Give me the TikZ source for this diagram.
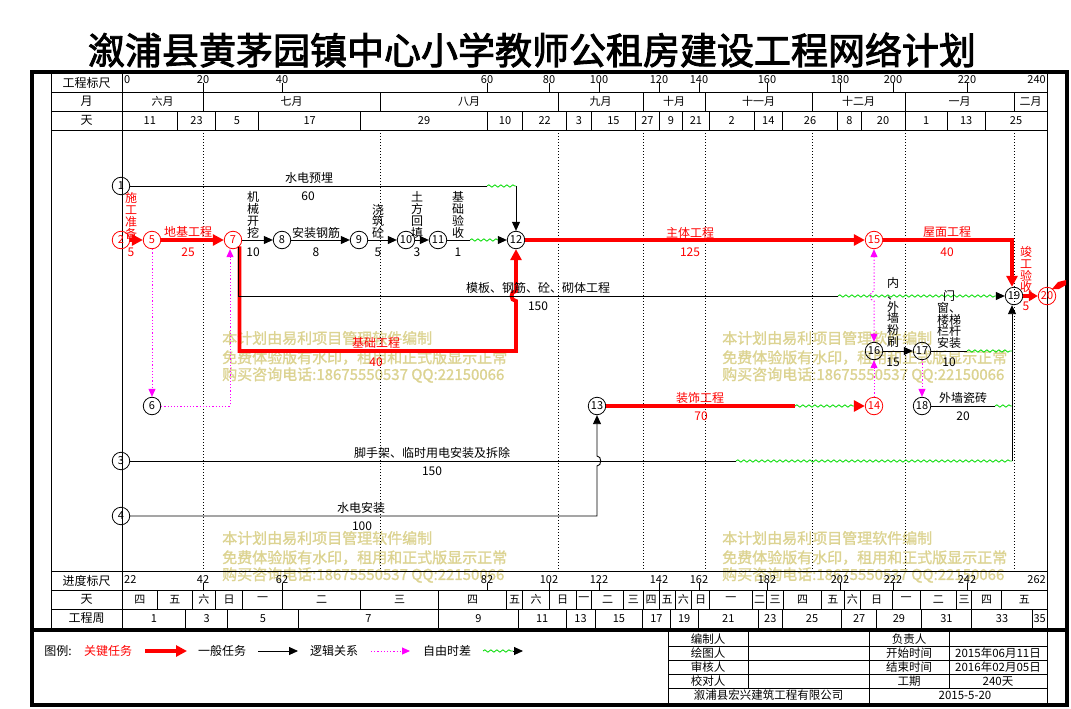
\documentclass[tikz,border=0pt]{standalone}
\usepackage{fontspec}
\setmainfont{Noto Sans CJK SC}
\newfontfamily\titlefont[FakeBold=2.5]{Noto Sans CJK SC}
\newfontfamily\wmfont[FakeBold=1.2]{Noto Sans CJK SC}
\usetikzlibrary{arrows.meta,decorations.pathmorphing}
\definecolor{wgreen}{RGB}{0,220,0}
\definecolor{wmk}{RGB}{220,211,145}
\definecolor{mag}{RGB}{255,0,255}
\newcommand\fsl{\fontsize{12}{11.8}\selectfont}
\newcommand\fsh{\fontsize{11}{11}\selectfont}
\newcommand\fst{\fontsize{11.5}{11.5}\selectfont}
\begin{document}
\begin{tikzpicture}[x=1pt,y=-1pt,
  gl/.style={draw=black,line width=0.9pt},
  md/.style={draw=black,line width=0.7pt,dash pattern=on 1pt off 2pt},
  nd/.style={circle,draw=black,line width=0.8pt,minimum size=17.5pt,inner sep=0pt,font=\fsh},
  cn/.style={nd,draw=red,text=red},
  ln/.style={draw=black,line width=0.9pt},
  ar/.style={ln,-{Triangle[length=9pt,width=8pt]}},
  cln/.style={draw=red,line width=3.8pt},
  car/.style={cln,-{Triangle[length=11pt,width=11pt]}},
  cars/.style={cln,-{Triangle[length=9pt,width=10pt]}},
  fl/.style={draw=mag,line width=1pt,dash pattern=on 1.2pt off 2pt,-{Triangle[length=8pt,width=7pt]}},
  flb/.style={draw=mag,line width=1pt,dash pattern=on 1.2pt off 2pt,{Triangle[length=8pt,width=7pt]}-{Triangle[length=8pt,width=7pt]}},
  wv/.style={draw=wgreen,line width=0.8pt,decorate,decoration={snake,amplitude=1.2pt,segment length=6pt}},
  lb/.style={inner sep=0pt,font=\fsl},
  rl/.style={lb,text=red},
  vt/.style={lb,align=center},
  hd/.style={inner sep=0pt,font=\fsh},
  tb/.style={inner sep=0pt,font=\fst},
  wm/.style={inner sep=0pt,text=wmk,font={\wmfont\fontsize{15}{15}\selectfont}}
]
\useasboundingbox (0,0) rectangle (1071,709);
\fill[white] (0,0) rectangle (1071,709);

% title
\node[inner sep=0pt,font={\titlefont\fontsize{37}{37}\selectfont}] (title) at (532,50) {溆浦县黄茅园镇中心小学教师公租房建设工程网络计划};

% watermarks
\foreach \x/\y [count=\i] in {222/338,722/338,222/538,722/538}{
  \node[wm,anchor=west] (wa\i) at (\x,\y) {本计划由易利项目管理软件编制};
  \node[wm,anchor=west] (wb\i) at (\x,\y+19.5) {免费体验版有水印，租用和正式版显示正常};
  \node[wm,anchor=west] (wc\i) at (\x,\y+37) {购买咨询电话:18675550537 QQ:22150066};
}

% grid
\foreach \y in {92,111,130,571,590,609} \draw[gl] (51,\y) -- (1047,\y);
\draw[gl] (51,72) -- (51,630);
\draw[gl] (122,72) -- (122,630);
\draw[gl] (1047,72) -- (1047,705);

% left labels
\node[lb] (l1) at (86.5,83) {工程标尺};
\node[lb] (l2) at (86.5,101.5) {月};
\node[lb] (l3) at (86.5,120.5) {天};
\node[lb] (l4) at (86.5,580.5) {进度标尺};
\node[lb] (l5) at (86.5,599.5) {天};
\node[lb] (l6) at (86.5,618.5) {工程周};

% top scale
\node[hd,anchor=west] (t0) at (124,79.5) {0};
\node[hd,anchor=east] (t240) at (1046,79.5) {240};
\foreach \x/\t in {203/20,282/40,487/60,549/80,599/100,659/120,699/140,767/160,840/180,893/200,967/220}{
  \draw[gl] (\x,83) -- (\x,92); \node[hd] at (\x,79.5) {\t};}
% bottom scale
\node[hd,anchor=west] (b22) at (124,579.5) {22};
\node[hd,anchor=east] (b262) at (1046,579.5) {262};
\foreach \x/\t in {203/42,282/62,487/82,549/102,599/122,659/142,699/162,767/182,840/202,893/222,967/242}{
  \draw[gl] (\x,583) -- (\x,590); \node[hd] at (\x,579.5) {\t};}

% months
\foreach \a/\b/\t in {122/203/六月,203/380/七月,380/558/八月,558/643/九月,643/705/十月,705/812/十一月,812/905/十二月,905/1014/一月,1014/1047/二月}{
  \draw[gl] (\b,92) -- (\b,111); \node[hd] at ({(\a+\b)/2},101.5) {\t};}
% days
\foreach \a/\b/\t in {122/177.7/11,177.7/215.3/23,215.3/258.7/5,258.7/360.7/17,360.7/487.3/29,487.3/522.7/10,522.7/566.7/22,566.7/591/3,591/635.7/15,635.7/659/27,659/682.7/9,682.7/709/21,709/754.3/2,754.3/782.3/14,782.3/837.7/26,837.7/861/8,861/905/20,905/947.3/1,947.3/985/13,985/1047/25}{
  \draw[gl] (\b,111) -- (\b,130); \node[hd] at ({(\a+\b)/2},120.5) {\t};}
% weekdays
\foreach \a/\b/\t in {122/157.7/四,157.7/192/五,192/215.7/六,215.7/242.7/日,242.7/282.3/一,282.3/360.7/二,360.7/438.3/三,438.3/506.7/四,506.7/522.7/五,522.7/549.3/六,549.3/576/日,576/591.7/一,591.7/623.3/二,623.3/643.3/三,643.3/659/四,659/675/五,675/691.7/六,691.7/709.3/日,709.3/752.3/一,752.3/766.7/二,766.7/783.3/三,783.3/821.7/四,821.7/844/五,844/860.7/六,860.7/892.3/日,892.3/920/一,920/956.7/二,956.7/971.7/三,971.7/1001.7/四,1001.7/1047/五}{
  \draw[gl] (\b,590) -- (\b,609); \node[hd] at ({(\a+\b)/2},599.5) {\t};}
% weeks
\foreach \a/\b/\t in {122/185.7/1,185.7/227.7/3,227.7/298.3/5,298.3/438.3/7,438.3/518.3/9,518.3/566/11,566/595/13,595/642.7/15,642.7/670/17,670/698.3/19,698.3/758.3/21,758.3/782.3/23,782.3/841.7/25,841.7/876.7/27,876.7/921/29,921/971.7/31,971.7/1032.3/33,1032.3/1047/35}{
  \draw[gl] (\b,609) -- (\b,628); \node[hd] at ({(\a+\b)/2},618.5) {\t};}

% month separators in chart
\foreach \x in {203,380,558,643,705,812,905,1014} \draw[md] (\x,130) -- (\x,571);

% outer frame
\draw[line width=4pt] (32,72) rectangle (1067,705);
\draw[line width=4pt] (32,630) -- (1067,630);

% info table
\draw[gl] (668,630) -- (668,705);
\draw[gl] (748,630) -- (748,688.5);
\draw[gl] (869,630) -- (869,705);
\draw[gl] (949,630) -- (949,688.5);
\foreach \y in {646.5,660.5,674.5,688.5} \draw[gl] (668,\y) -- (1047,\y);
\node[tb] (i1) at (708,639.5) {编制人};
\node[tb] (i2) at (708,653.5) {绘图人};
\node[tb] (i3) at (708,667.5) {审核人};
\node[tb] (i4) at (708,681.5) {校对人};
\node[tb] (i5) at (909,639.5) {负责人};
\node[tb] (i6) at (909,653.5) {开始时间};
\node[tb] (i7) at (909,667.5) {结束时间};
\node[tb] (i8) at (909,681.5) {工期};
\node[tb] (i9) at (998,653.5) {2015年06月11日};
\node[tb] (i10) at (998,667.5) {2016年02月05日};
\node[tb] (i11) at (998,681.5) {240天};
\node[tb] (i12) at (768.5,695.5) {溆浦县宏兴建筑工程有限公司};
\node[tb] (i13) at (965,695.5) {2015-5-20};

% legend
\node[lb] (g0) at (58,651) {图例:};
\node[rl] (g1) at (108,651) {关键任务};
\node[lb] (g2) at (222,651) {一般任务};
\node[lb] (g3) at (334,651) {逻辑关系};
\node[lb] (g4) at (447,651) {自由时差};
\coordinate (L1a) at (145,651); \coordinate (L1b) at (187,651);
\coordinate (L2a) at (258,651); \coordinate (L2b) at (298,651);
\coordinate (L3a) at (371,651); \coordinate (L3b) at (410,651);
\coordinate (L4a) at (483,651); \coordinate (L4b) at (513,651); \coordinate (L4c) at (523,651);
\draw[car] (L1a) -- (L1b);
\draw[ar] (L2a) -- (L2b);
\draw[fl] (L3a) -- (L3b);
\draw[wv] (L4a) -- (L4b);
\draw[ar] (L4b) -- (L4c);

% nodes
\node[nd] (n1) at (121,186) {1};
\node[cn] (n2) at (121,240) {2};
\node[cn] (n5) at (152,240) {5};
\node[cn] (n7) at (233,240) {7};
\node[nd] (n8) at (282,240) {8};
\node[nd] (n9) at (359,240) {9};
\node[nd] (n10) at (406,240) {10};
\node[nd] (n11) at (438,240) {11};
\node[nd] (n12) at (516,240) {12};
\node[cn] (n15) at (874,240) {15};
\node[nd] (n19) at (1014,296) {19};
\node[cn] (n20) at (1047,296) {20};
\node[nd] (n16) at (874,351) {16};
\node[nd] (n17) at (922,351) {17};
\node[nd] (n18) at (922,406) {18};
\node[nd] (n6) at (152,406) {6};
\node[nd] (n13) at (597,406) {13};
\node[cn] (n14) at (874,406) {14};
\node[nd] (n3) at (121,461) {3};
\node[nd] (n4) at (121,516) {4};

% coordinates
\coordinate (a1) at (487,186); \coordinate (b1) at (516,186);
\coordinate (a11) at (470,240); \coordinate (b11) at (498,240);
\coordinate (c15) at (1012,240);
\coordinate (a7) at (838,296); \coordinate (b7) at (996,296);
\coordinate (r7) at (516,351);
\coordinate (m6) at (230,406);
\coordinate (a3) at (736,461); \coordinate (b3) at (1012,461);
\coordinate (a4) at (597,516);
\coordinate (a13) at (795,406); \coordinate (b13) at (854,406);
\coordinate (a17) at (967,351); \coordinate (b17) at (1012,351);
\coordinate (a18) at (995,406); \coordinate (b18) at (1012,406);

% edges
\draw[ln] (n1) -- (a1); \draw[wv] (a1) -- (b1); \draw[ar] (b1) -- (n12);
\draw[car] (n2) -- (n5);
\draw[car] (n5) -- (n7);
\draw[ar] (n7) -- (n8);
\draw[ar] (n8) -- (n9);
\draw[ar] (n9) -- (n10);
\draw[ar] (n10) -- (n11);
\draw[ln] (n11) -- (a11); \draw[wv] (a11) -- (b11); \draw[ar] (b11) -- (n12);
\draw[car] (n12) -- (n15);
\draw[car,line join=miter] (n15) -- (c15) -- (c15 |- n19.north);
\draw[cars] (n19) -- (n20);
\draw[car,line join=miter] (n7.-45) |- (r7) -- (516,301) .. controls (510,301) and (510,291) .. (516,291) -- (n12);
\draw[ln] (n7.-55) |- (a7); \draw[wv] (a7) -- (b7); \draw[ar] (b7) -- (n19);
\draw[ln] (n3) -- (a3); \draw[wv] (a3) -- (b3); \draw[ar] (b3) -- (b3 |- n19.south);
\draw[ar] (n4) -- (a4) -- (597,466) .. controls (602,466) and (602,456) .. (597,456) -- (n13);
\draw[cln] (n13) -- (a13); \draw[wv] (a13) -- (b13); \draw[car] (b13) -- (n14);
\draw[ar] (n16) -- (n17);
\draw[ln] (n17) -- (a17); \draw[wv] (a17) -- (b17);
\draw[ln] (n18) -- (a18); \draw[wv] (a18) -- (b18);
\draw[fl] (n5) -- (n6);
\draw[fl] (n6) -- (m6) -- (m6 |- n7.south);
\draw[fl] (n14) -- (n16);
\draw[flb] (n16) -- (874,301) .. controls (869,301) and (869,291) .. (874,291) -- (n15);
\draw[fl] (n17) -- (n18);
\fill[red] (1052,289) -- (1058,282) -- (1066,280) -- (1066,285) -- (1059,289) -- cycle;

% labels
\node[lb] (e1) at (309,178) {水电预埋};
\node[lb] (e1d) at (308,196) {60};
\node[vt,text=red] (e2) at (131,216) {施\\工\\准\\备};
\node[rl] (e2d) at (131,252) {5};
\node[rl] (e3) at (188,232) {地基工程};
\node[rl] (e3d) at (188,252) {25};
\node[vt] (e4) at (253,215) {机\\械\\开\\挖};
\node[lb] (e4d) at (253,252) {10};
\node[lb] (e5) at (316,233) {安装钢筋};
\node[lb] (e5d) at (316,252) {8};
\node[vt] (e6) at (378,221) {浇\\筑\\砼};
\node[lb] (e6d) at (378,252) {5};
\node[vt] (e7) at (417,215) {土\\方\\回\\填};
\node[lb] (e7d) at (417,252) {3};
\node[vt] (e8) at (458,215) {基\\础\\验\\收};
\node[lb] (e8d) at (458,252) {1};
\node[rl] (e9) at (690,233) {主体工程};
\node[rl] (e9d) at (690,252) {125};
\node[rl] (e10) at (947,232) {屋面工程};
\node[rl] (e10d) at (947,252) {40};
\node[vt,text=red] (e11) at (1026,269.5) {竣\\工\\验\\收};
\node[rl] (e11d) at (1026,306) {5};
\node[lb] (e12) at (538,288) {模板、钢筋、砼、砌体工程};
\node[lb] (e12d) at (538,306) {150};
\node[rl] (e13) at (376,343) {基础工程};
\node[rl] (e13d) at (376,362) {40};
\node[lb] (e14) at (432,453) {脚手架、临时用电安装及拆除};
\node[lb] (e14d) at (432,471) {150};
\node[lb] (e15) at (361,508) {水电安装};
\node[lb] (e15d) at (362,526) {100};
\node[rl] (e16) at (700,398) {装饰工程};
\node[rl] (e16d) at (701,416) {70};
\node[vt] (e17) at (893,312.5) {内\\、\\外\\墙\\粉\\刷};
\node[lb] (e17d) at (893,362) {15};
\node[vt] (e18) at (949,319.5) {门\\窗、\\楼梯\\栏杆\\安装};
\node[lb] (e18d) at (949,362) {10};
\node[lb] (e19) at (963,398) {外墙瓷砖};
\node[lb] (e19d) at (963,416) {20};
\end{tikzpicture}
\end{document}
